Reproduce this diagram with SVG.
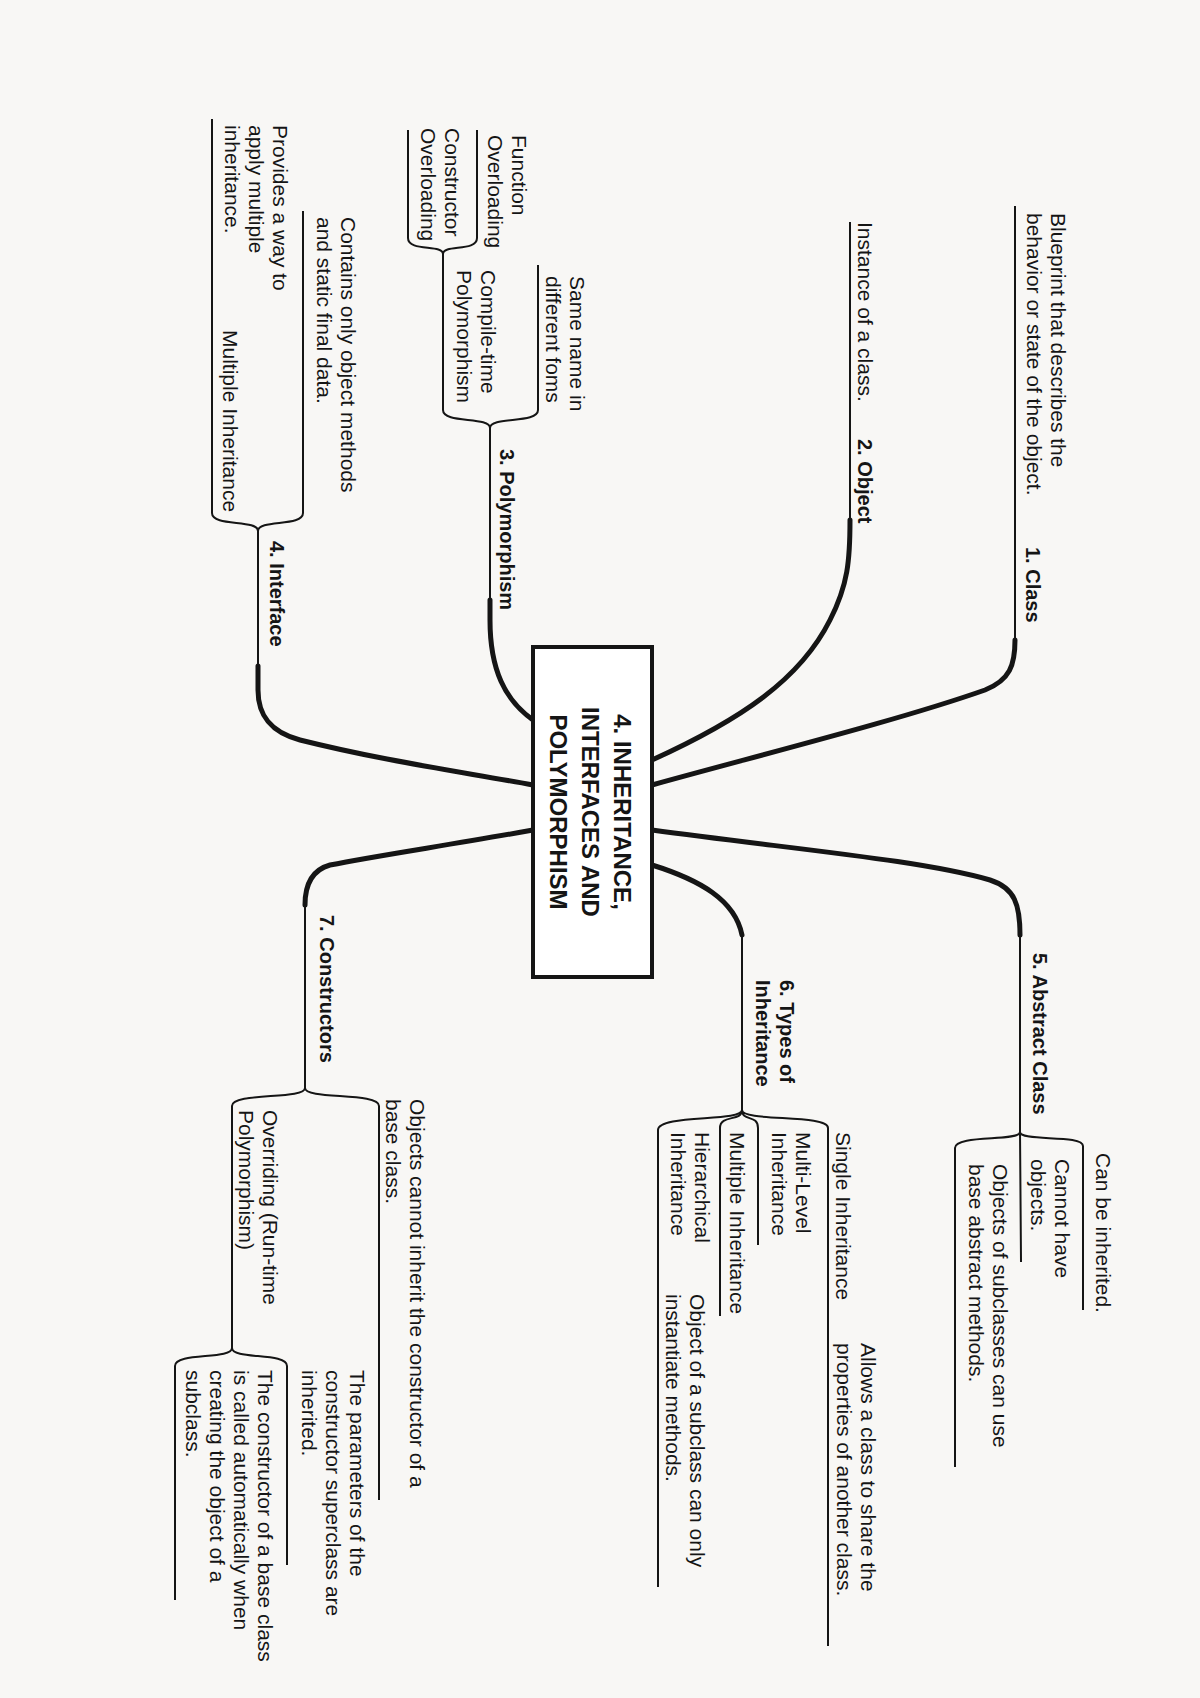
<svg xmlns="http://www.w3.org/2000/svg" width="1200" height="1698" viewBox="0 0 1200 1698">
<style>
text{font-family:"Liberation Sans",Arial,sans-serif;font-size:21px;fill:#151515}
.b{font-weight:bold;font-size:20px}
.t{font-weight:bold;font-size:24px;text-anchor:middle}
.thick{fill:none;stroke:#151515;stroke-width:5;stroke-linecap:round}
.thin{fill:none;stroke:#151515;stroke-width:2}
</style>
<rect width="1200" height="1698" fill="#f8f7f5"/>
<g id="connectors">
<path class="thick" d="M652,785 C760,755 900,720 985,690 C1010,680 1015,665 1015,640"/>
<path class="thin" d="M1015,640 L1015,206"/>
<path class="thick" d="M652,760 C740,720 800,680 830,620 C848,585 850,560 850,520"/>
<path class="thin" d="M850,520 L850,222"/>
<path class="thick" d="M652,830 C800,850 920,860 990,880 C1015,888 1020,905 1020,935"/>
<path class="thin" d="M1020,935 L1020,1132 M1020,1132 C1020,1142 1083,1134 1083,1146 L1083,1310 M1020,1132 L1021,1262 M1020,1132 C1020,1142 955,1134 955,1148 L955,1467"/>
<path class="thick" d="M652,865 C700,880 735,900 742,935"/>
<path class="thin" d="M742,935 L742,1110 M742,1110 C742,1122 828,1114 828,1128 L828,1646 M742,1110 C742,1122 758,1114 758,1128 L758,1245 M742,1110 C742,1122 720,1114 720,1128 L720,1316 M742,1110 C742,1122 658,1114 658,1130 L658,1587"/>
<path class="thick" d="M533,720 C505,700 490,670 490,620 L490,600"/>
<path class="thin" d="M490,600 L490,428 M490,428 C490,416 538,424 538,410 L538,265 M490,428 C490,416 443,424 443,410 L443,254 M443,254 C443,244 477,252 477,238 L477,130 M443,254 C443,244 408,252 408,238 L408,130"/>
<path class="thick" d="M533,785 C450,770 380,760 300,740 C270,732 258,715 258,690 L258,666"/>
<path class="thin" d="M258,666 L258,531 M258,531 C258,519 303,527 303,513 L303,211 M258,531 C258,519 212,527 212,513 L212,119"/>
<path class="thick" d="M533,830 C450,845 380,855 330,865 C312,870 305,885 305,905"/>
<path class="thin" d="M305,905 L305,1088 M305,1088 C305,1100 379,1092 379,1106 L379,1500 M305,1088 C305,1100 232,1092 232,1106 L232,1348 M232,1348 C232,1360 287,1352 287,1366 L287,1565 M232,1348 C232,1360 175,1352 175,1366 L175,1600"/>
</g>
<g id="center">
<rect x="533" y="647" width="119" height="330" fill="#fff" stroke="#151515" stroke-width="4"/>
<text class="t" transform="translate(614,812) rotate(90)"><tspan x="0" dy="0">4. INHERITANCE,</tspan><tspan x="0" dy="32">INTERFACES AND</tspan><tspan x="0" dy="32">POLYMORPHISM</tspan></text>
</g>
<g id="class">
<text class="b" transform="translate(1026,547) rotate(90)">1. Class</text>
<text transform="translate(1051,213) rotate(90)"><tspan x="0">Blueprint that describes the</tspan><tspan x="0" dy="24">behavior or state of the object.</tspan></text>
</g>
<g id="object">
<text class="b" transform="translate(858,439) rotate(90)">2. Object</text>
<text transform="translate(858,222) rotate(90)">Instance of a class.</text>
</g>
<g id="polymorphism">
<text class="b" transform="translate(500,449) rotate(90)">3. Polymorphism</text>
<text transform="translate(570,276) rotate(90)"><tspan x="0">Same name in</tspan><tspan x="0" dy="24">different foms</tspan></text>
<text transform="translate(481,270) rotate(90)"><tspan x="0">Compile-time</tspan><tspan x="0" dy="24">Polymorphism</tspan></text>
<text transform="translate(512,135) rotate(90)"><tspan x="0">Function</tspan><tspan x="0" dy="24">Overloading</tspan></text>
<text transform="translate(445,128) rotate(90)"><tspan x="0">Constructor</tspan><tspan x="0" dy="24">Overloading</tspan></text>
</g>
<g id="interface">
<text class="b" transform="translate(270,541) rotate(90)">4. Interface</text>
<text transform="translate(341,217) rotate(90)"><tspan x="0">Contains only object methods</tspan><tspan x="0" dy="24">and static final data.</tspan></text>
<text transform="translate(273,125) rotate(90)"><tspan x="0">Provides a way to</tspan><tspan x="0" dy="24">apply multiple</tspan><tspan x="0" dy="24">inheritance.</tspan></text>
<text transform="translate(223,330) rotate(90)">Multiple Inheritance</text>
</g>
<g id="abstract">
<text class="b" transform="translate(1033,953) rotate(90)">5. Abstract Class</text>
<text transform="translate(1096,1153) rotate(90)">Can be inherited.</text>
<text transform="translate(1055,1159) rotate(90)"><tspan x="0">Cannot have</tspan><tspan x="0" dy="24">objects.</tspan></text>
<text transform="translate(993,1164) rotate(90)"><tspan x="0">Objects of subclasses can use</tspan><tspan x="0" dy="24">base abstract methods.</tspan></text>
</g>
<g id="types">
<text class="b" transform="translate(780,980) rotate(90)"><tspan x="0">6. Types of</tspan><tspan x="0" dy="24">Inheritance</tspan></text>
<text transform="translate(836,1132) rotate(90)">Single Inheritance</text>
<text transform="translate(861,1343) rotate(90)"><tspan x="0">Allows a class to share the</tspan><tspan x="0" dy="24">properties of another class.</tspan></text>
<text transform="translate(796,1132) rotate(90)"><tspan x="0">Multi-Level</tspan><tspan x="0" dy="24">Inheritance</tspan></text>
<text transform="translate(730,1132) rotate(90)">Multiple Inheritance</text>
<text transform="translate(695,1132) rotate(90)"><tspan x="0">Hierarchical</tspan><tspan x="0" dy="24">Inheritance</tspan></text>
<text transform="translate(690,1294) rotate(90)"><tspan x="0">Object of a subclass can only</tspan><tspan x="0" dy="24">instantiate methods.</tspan></text>
</g>
<g id="constructors">
<text class="b" transform="translate(320,915) rotate(90)">7. Constructors</text>
<text transform="translate(410,1099) rotate(90)"><tspan x="0">Objects cannot inherit the constructor of a</tspan><tspan x="0" dy="24">base class.</tspan></text>
<text transform="translate(263,1110) rotate(90)"><tspan x="0">Overriding (Run-time</tspan><tspan x="0" dy="24">Polymorphism)</tspan></text>
<text transform="translate(350,1370) rotate(90)"><tspan x="0">The parameters of the</tspan><tspan x="0" dy="24">constructor superclass are</tspan><tspan x="0" dy="24">inherited.</tspan></text>
<text transform="translate(258,1370) rotate(90)"><tspan x="0">The constructor of a base class</tspan><tspan x="0" dy="24">is called automatically when</tspan><tspan x="0" dy="24">creating the object of a</tspan><tspan x="0" dy="24">subclass.</tspan></text>
</g>
</svg>
